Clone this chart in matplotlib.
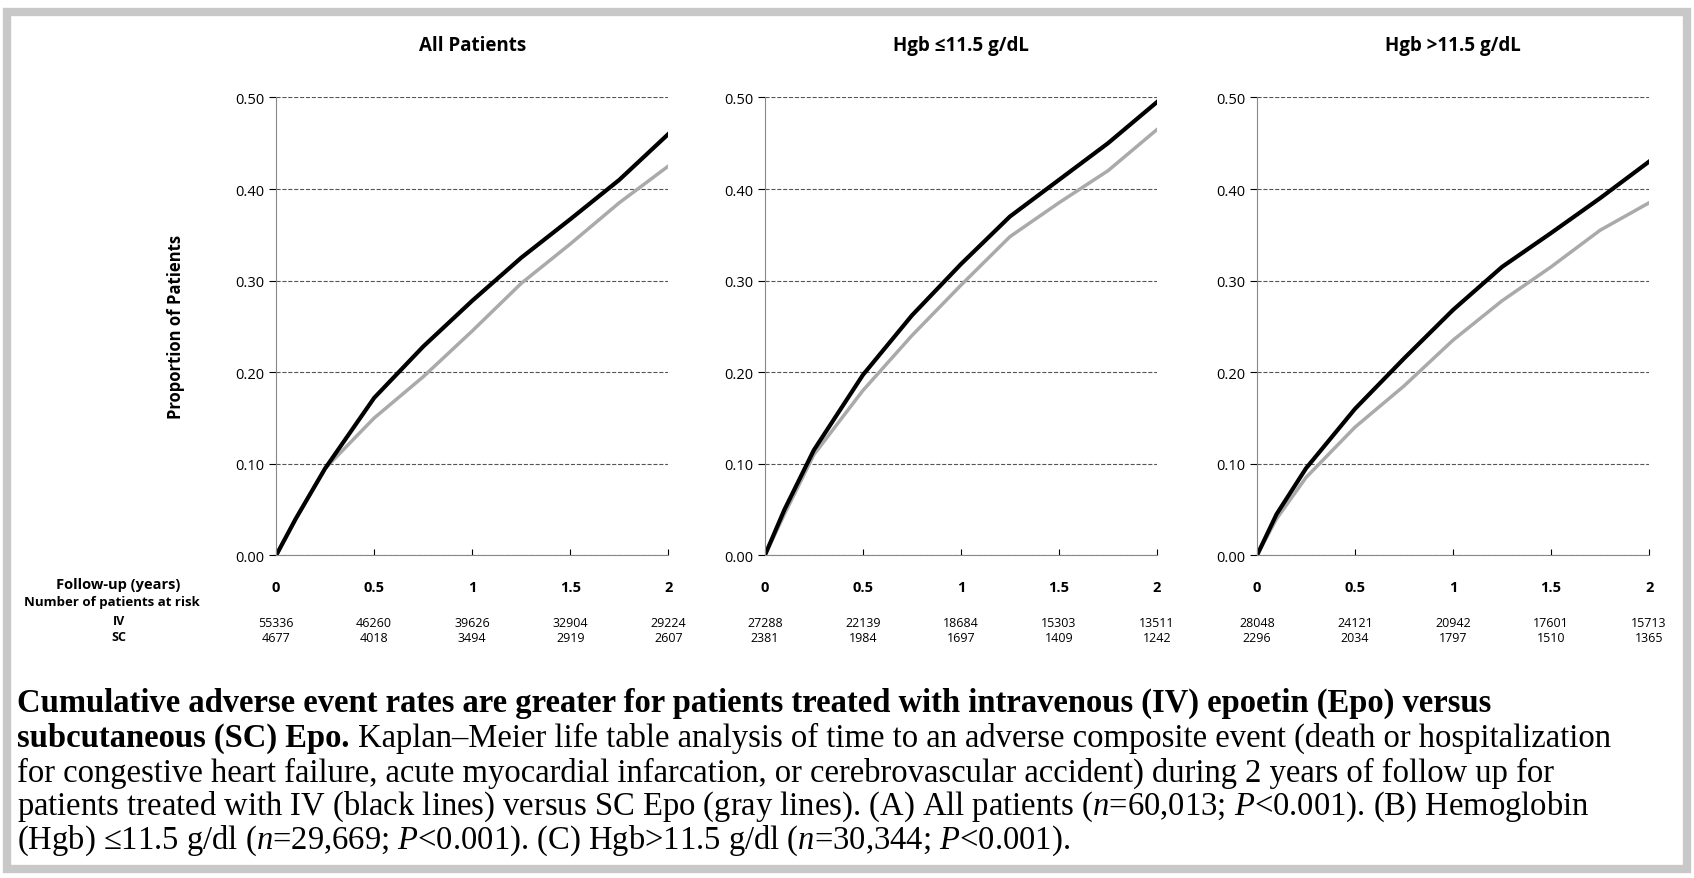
import matplotlib.pyplot as plt
from matplotlib.patches import Rectangle

plt.rcParams['mathtext.fontset'] = 'custom'
plt.rcParams['mathtext.it'] = 'Liberation Serif:italic'
plt.rcParams['mathtext.rm'] = 'Liberation Serif'

t = [0, 0.1, 0.25, 0.5, 0.75, 1.0, 1.25, 1.5, 1.75, 2.0]
titles = ["All Patients", "Hgb \u226411.5 g/dL", "Hgb >11.5 g/dL"]
iv_all = [0, 0.04, 0.095, 0.172, 0.228, 0.278, 0.325, 0.367, 0.41, 0.46]
sc_all = [0, 0.04, 0.095, 0.15, 0.195, 0.245, 0.297, 0.34, 0.385, 0.425]
iv_low = [0, 0.05, 0.115, 0.197, 0.262, 0.318, 0.37, 0.41, 0.45, 0.495]
sc_low = [0, 0.045, 0.11, 0.18, 0.24, 0.295, 0.348, 0.385, 0.42, 0.465]
iv_high = [0, 0.045, 0.095, 0.16, 0.215, 0.268, 0.315, 0.352, 0.39, 0.43]
sc_high = [0, 0.04, 0.085, 0.14, 0.185, 0.235, 0.278, 0.315, 0.355, 0.385]
ticks_x = [0, 0.5, 1, 1.5, 2]
tick_labels = ["0", "0.5", "1", "1.5", "2"]
risk_iv = [[55336, 46260, 39626, 32904, 29224],
           [27288, 22139, 18684, 15303, 13511],
           [28048, 24121, 20942, 17601, 15713]]
risk_sc = [[4677, 4018, 3494, 2919, 2607],
           [2381, 1984, 1697, 1409, 1242],
           [2296, 2034, 1797, 1510, 1365]]
series = [(iv_all, sc_all), (iv_low, sc_low), (iv_high, sc_high)]

fig = plt.figure(figsize=(16.94, 8.79), dpi=100)
fig.patches.append(Rectangle((0.004, 0.01), 0.992, 0.975, transform=fig.transFigure,
                             fill=False, edgecolor='#c8c8c8', linewidth=6))
lefts = [0.163, 0.4515, 0.742]
sans = 'Open Sans'
for i, left in enumerate(lefts):
    ax = fig.add_axes([left, 0.367, 0.2315, 0.521])
    iv, sc = series[i]
    ax.plot(t, sc, color='#aaaaaa', lw=2.5)
    ax.plot(t, iv, color='black', lw=3)
    ax.set_xlim(0, 2)
    ax.set_ylim(0, 0.5)
    ax.set_yticks([0, 0.1, 0.2, 0.3, 0.4, 0.5])
    ax.set_yticklabels(["0.00", "0.10", "0.20", "0.30", "0.40", "0.50"],
                       fontsize=10.5, family=sans)
    ax.yaxis.grid(True, linestyle='--', color='#555555', lw=0.8)
    ax.set_xticks(ticks_x)
    ax.set_xticklabels(tick_labels, fontsize=10.5, family=sans, fontweight='bold')
    ax.tick_params(axis='x', direction='in', length=4, pad=18)
    ax.tick_params(axis='y', length=5)
    for s in ['top', 'right']:
        ax.spines[s].set_visible(False)
    ax.spines['left'].set_color('#888888')
    ax.spines['bottom'].set_color('#888888')
    ax.set_title(titles[i], fontsize=13.5, fontweight='bold', family=sans, pad=34)
    for j, x in enumerate(ticks_x):
        ax.text(x, -0.146, str(risk_iv[i][j]), ha='center', va='center', fontsize=9,
                family=sans, transform=ax.get_xaxis_transform(), clip_on=False)
        ax.text(x, -0.18, str(risk_sc[i][j]), ha='center', va='center', fontsize=9,
                family=sans, transform=ax.get_xaxis_transform(), clip_on=False)
    if i == 0:
        ax.set_ylabel("Proportion of Patients", fontsize=12, fontweight='bold',
                      family=sans, labelpad=36)

fig.text(0.07, 0.335, "Follow-up (years)", ha='center', va='center', fontsize=10.5, fontweight='bold', family=sans)
fig.text(0.066, 0.314, "Number of patients at risk", ha='center', va='center', fontsize=9.5, fontweight='bold', family=sans)
fig.text(0.07, 0.293, "IV", ha='center', va='center', fontsize=9, fontweight='bold', family=sans)
fig.text(0.07, 0.275, "SC", ha='center', va='center', fontsize=9, fontweight='bold', family=sans)

serif = 'Liberation Serif'
fs = 23.5
x0 = 0.01
ys = [0.2, 0.16, 0.12, 0.082, 0.043]
fig.text(x0, ys[0], "Cumulative adverse event rates are greater for patients treated with intravenous (IV) epoetin (Epo) versus",
         fontsize=fs, fontweight='bold', family=serif, va='center')
r = fig.canvas.get_renderer()
b = fig.text(x0, ys[1], "subcutaneous (SC) Epo.", fontsize=fs, fontweight='bold', family=serif, va='center')
w = b.get_window_extent(renderer=r).width / fig.bbox.width
fig.text(x0 + w + 0.005, ys[1], "Kaplan\u2013Meier life table analysis of time to an adverse composite event (death or hospitalization",
         fontsize=fs, family=serif, va='center')
fig.text(x0, ys[2], "for congestive heart failure, acute myocardial infarcation, or cerebrovascular accident) during 2 years of follow up for",
         fontsize=fs, family=serif, va='center')
fig.text(x0, ys[3], r"patients treated with IV (black lines) versus SC Epo (gray lines). (A) All patients ($n$=60,013; $P$<0.001). (B) Hemoglobin",
         fontsize=fs, family=serif, va='center')
fig.text(x0, ys[4], "(Hgb) \u226411.5 g/dl ($n$=29,669; $P$<0.001). (C) Hgb>11.5 g/dl ($n$=30,344; $P$<0.001).",
         fontsize=fs, family=serif, va='center')

fig.savefig("out.png", dpi=100)
